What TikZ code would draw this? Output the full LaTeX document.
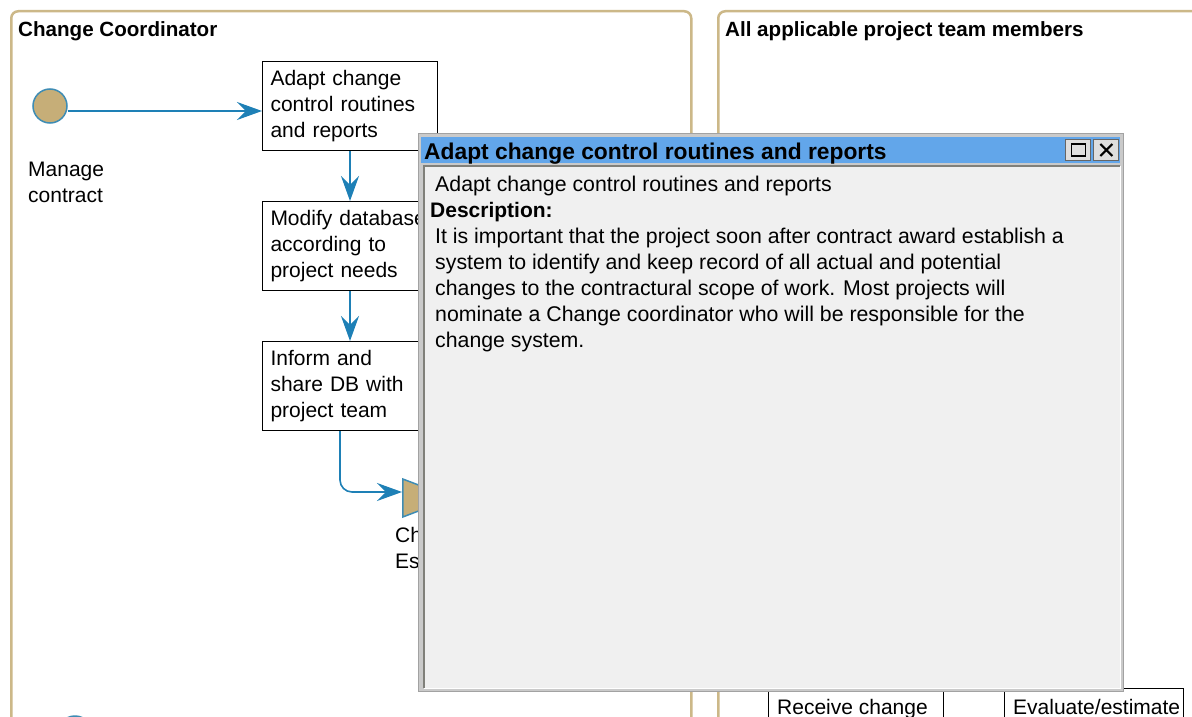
\documentclass[tikz,border=0pt]{standalone}
\usepackage{fontspec}
\setmainfont{Liberation Sans}
\usetikzlibrary{arrows.meta, positioning, shapes.geometric}
\definecolor{colLane} {RGB}{204,184,136}
\definecolor{colEvent}{RGB}{198,174,120}
\definecolor{colEdge} {RGB}{62,140,180}
\definecolor{colFlow} {RGB}{30,128,182}
\definecolor{colBar}  {RGB}{98,166,234}
\definecolor{colFrame}{RGB}{202,202,202}
\definecolor{colPane} {RGB}{240,240,240}
\definecolor{colShade}{RGB}{128,128,122}
\definecolor{colBtn}  {RGB}{222,222,222}
\tikzset{
  txt/.style       = {font=\fontsize{21}{26}\selectfont, inner sep=0pt, align=left},
  popTxt/.style    = {txt, font=\fontsize{21.3}{26}\selectfont},
  lane/.style      = {draw=colLane, line width=2.5pt, rounded corners=7pt,
                      inner sep=0pt, anchor=north west},
  laneTitle/.style = {font=\fontsize{20.6}{24}\selectfont\bfseries, inner sep=0pt,
                      anchor=base west},
  event/.style     = {circle, draw=colEdge, line width=1.5pt, fill=colEvent,
                      minimum size=34pt, inner sep=0pt},
  gate/.style      = {isosceles triangle, isosceles triangle stretches,
                      shape border rotate=0, draw=colEdge, line width=1.5pt,
                      fill=colEvent, minimum width=38pt, minimum height=50pt,
                      inner sep=0pt},
  task/.style      = {txt, draw=black, line width=1pt, fill=white,
                      minimum width=175pt, minimum height=89pt,
                      text width=159pt, inner xsep=8pt},
  flow/.style      = {draw=colFlow, line width=1.6pt,
                      -{Stealth[length=25pt, width=18pt, inset=9pt]}},
  popFrame/.style  = {draw=colFrame!80!black, fill=colFrame, line width=1pt,
                      inner sep=0pt, anchor=north west},
  popBtn/.style    = {draw=black!60, fill=colBtn, line width=1pt,
                      minimum width=25pt, minimum height=21pt, inner sep=0pt},
}

\begin{document}
\begin{tikzpicture}[x=1pt, y=-1pt]

\clip (0,0) rectangle (1192,717);
\fill[white] (0,0) rectangle (1192,717);

%% ── lanes ────────────────────────────────────────────────────────────────────
\node[lane, minimum width=680pt, minimum height=760pt] (laneCc) at (10,10) {};
\node[lane, minimum width=530pt, minimum height=760pt] (laneTeam) at (717,10) {};
\node[laneTitle] (laneCcTitle)   at (18,37)  {Change Coordinator};
\node[laneTitle] (laneTeamTitle) at (725,37) {All applicable project team members};

%% ── Change Coordinator flow ─────────────────────────────────────────────────
\node[event] (startMc) at (50,106) {};
\node[txt, anchor=north west] (mcLabel) at (28,162) {Manage\\contract};

\node[task, anchor=north west] (adapt) at (262,61)
  {Adapt change\\control routines\\and reports};
\node[task, below=50pt of adapt]  (modify)
  {Modify database\\according to\\project needs};
\node[task, below=50pt of modify] (inform)
  {Inform and\\share DB with\\project team};

\node[gate, anchor=west] (gateCh) at (402,498) {};
\node[txt, anchor=north west] (gateLbl) at (395,527) {Change\\Estimate};

\node[event] (startCr) at (75,733) {};

%% ── team members ─────────────────────────────────────────────────────────────
\node[task, anchor=north west,
      label={[txt, anchor=north west, xshift=9pt, yshift=-9pt]north west:Receive change}]
  (recv) at (768,690) {};
\node[task, anchor=north west, minimum width=179pt,
      label={[txt, anchor=north west, xshift=9pt, yshift=-11pt]north west:Evaluate/estimate}]
  (eval) at (1004,688) {};

%% ── arrows ───────────────────────────────────────────────────────────────────
\draw[flow] ([yshift=-5pt]startMc.east) -- ([yshift=-5pt]adapt.west);
\draw[flow] (adapt)  -- (modify);
\draw[flow] (modify) -- (inform);
\draw[flow, rounded corners=12pt]
  ([xshift=-10pt]inform.south) |- ([yshift=6pt]gateCh.west);

%% ── info window ──────────────────────────────────────────────────────────────
\node[popFrame, minimum width=705pt, minimum height=558pt] (pop) at (418,133) {};
\node[fill=colBar, inner sep=0pt, anchor=north west,
      minimum width=699pt, minimum height=26pt] (popBar) at (421,137) {};
\node[font=\fontsize{22.8}{26}\selectfont\bfseries, inner sep=0pt, anchor=base west]
  (popTitle) at (424,159) {Adapt change control routines and reports};

\node[popBtn, anchor=north east] (popClose) at ([xshift=-1pt, yshift=-2pt]popBar.north east) {};
\node[popBtn, left=2pt of popClose] (popMax) {};
\draw[line width=1.2pt] ([shift={(-7pt,-6pt)}]popMax.center)
  rectangle ([shift={(7pt,6pt)}]popMax.center);
\draw[line width=2.4pt] ([shift={(-7pt,6pt)}]popMax.center) -- ([shift={(7pt,6pt)}]popMax.center);
\draw[line width=2pt]
  ([shift={(-6pt,-6pt)}]popClose.center) -- ([shift={(6pt,6pt)}]popClose.center)
  ([shift={(-6pt,6pt)}]popClose.center) -- ([shift={(6pt,-6pt)}]popClose.center);

\node[fill=colPane, inner sep=0pt, anchor=north west,
      minimum width=696pt, minimum height=522pt] (popPane) at (424,166) {};
\draw[colShade, line width=2pt]
  (popPane.south west) -- (popPane.north west) -- (popPane.north east);
\draw[white, line width=1pt]
  (popPane.south west) -- (popPane.south east) -- (popPane.north east);

\node[popTxt, anchor=base west] (popName) at (435,191)
  {Adapt change control routines and reports};
\node[popTxt, font=\fontsize{21}{26}\selectfont\bfseries, anchor=base west]
  (popDescHd) at (430,217) {Description:};
\node[popTxt, anchor=north west] (popDesc) at (435,227.5)
  {It is important that the project soon after contract award establish a\\
   system to identify and keep record of all actual and potential\\
   changes to the contractural scope of work. Most projects will\\
   nominate a Change coordinator who will be responsible for the\\
   change system.};

\end{tikzpicture}
\end{document}
